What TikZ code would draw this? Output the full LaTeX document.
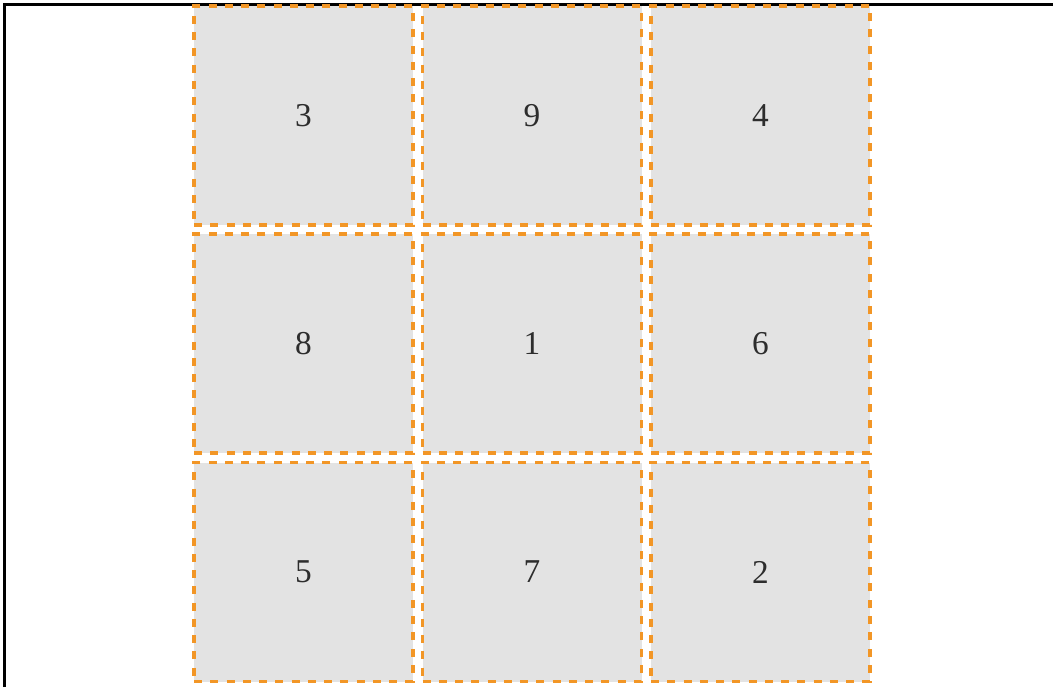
\documentclass[tikz,border=0pt]{standalone}
\usepackage{fontspec}
\setmainfont{Liberation Serif}
\definecolor{cellgray}{RGB}{227,227,227}
\definecolor{dashorange}{RGB}{242,150,38}
\definecolor{digit}{RGB}{45,45,45}
\begin{document}
\begin{tikzpicture}[x=0.75pt,y=-0.75pt,
  cellbox/.style={fill=cellgray,draw=dashorange,line width=2.6pt,dash pattern=on 6pt off 6.2pt,
    minimum width=219*0.75pt,minimum height=219*0.75pt,inner sep=0pt,outer sep=0pt,
    font=\fontsize{25}{29}\selectfont,text=digit},
  framel/.style={line width=1.6pt,black}]
\useasboundingbox (0,0) rectangle (1053,687);
\fill[white] (0,0) rectangle (1053,687);
\coordinate (fl) at (4.5,687);
\coordinate (fc) at (4.5,4.5);
\coordinate (fr) at (1053,4.5);
\draw[framel] (fl) -- (fc) -- (fr);
\node[cellbox] (c11) at (303.5,115.5) {3};
\node[cellbox] (c12) at (532,115.5) {9};
\node[cellbox] (c13) at (760.5,115.5) {4};
\node[cellbox] (c21) at (303.5,343.5) {8};
\node[cellbox] (c22) at (532,343.5) {1};
\node[cellbox] (c23) at (760.5,343.5) {6};
\node[cellbox] (c31) at (303.5,572) {5};
\node[cellbox] (c32) at (532,572) {7};
\node[cellbox] (c33) at (760.5,572) {2};
\end{tikzpicture}
\end{document}
